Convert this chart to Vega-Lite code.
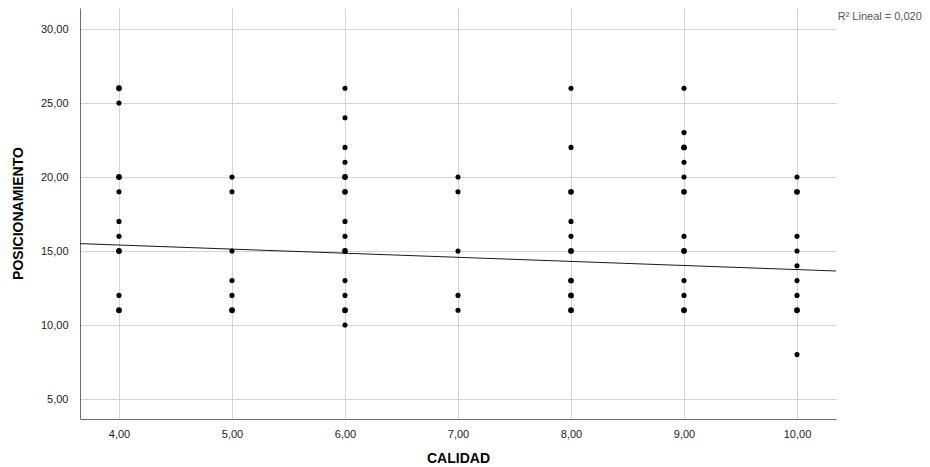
{
  "$schema": "https://vega.github.io/schema/vega-lite/v6.json",
  "width": 756,
  "height": 411,
  "autosize": {"type": "none"},
  "padding": {"left": 80, "top": 8, "right": 94, "bottom": 48},
  "background": "white",
  "config": {
    "view": {"stroke": null},
    "font": "Liberation Sans",
    "axis": {
      "grid": true,
      "gridColor": "#d4d4d4",
      "gridWidth": 1,
      "ticks": false,
      "domainColor": "#6e6e6e",
      "domainWidth": 1,
      "labelFont": "Liberation Sans",
      "labelFontSize": 11,
      "labelColor": "#222222",
      "titleFont": "Liberation Sans",
      "titleFontSize": 14,
      "titleFontWeight": "bold",
      "titleColor": "#000000"
    }
  },
  "datasets": {
    "pts": [
      {"calidad": 4, "posicionamiento": 26, "n": 2},
      {"calidad": 4, "posicionamiento": 25, "n": 1},
      {"calidad": 4, "posicionamiento": 20, "n": 2},
      {"calidad": 4, "posicionamiento": 19, "n": 1},
      {"calidad": 4, "posicionamiento": 17, "n": 1},
      {"calidad": 4, "posicionamiento": 16, "n": 1},
      {"calidad": 4, "posicionamiento": 15, "n": 2},
      {"calidad": 4, "posicionamiento": 12, "n": 1},
      {"calidad": 4, "posicionamiento": 11, "n": 2},
      {"calidad": 5, "posicionamiento": 20, "n": 1},
      {"calidad": 5, "posicionamiento": 19, "n": 1},
      {"calidad": 5, "posicionamiento": 15, "n": 1},
      {"calidad": 5, "posicionamiento": 13, "n": 1},
      {"calidad": 5, "posicionamiento": 12, "n": 1},
      {"calidad": 5, "posicionamiento": 11, "n": 2},
      {"calidad": 6, "posicionamiento": 26, "n": 1},
      {"calidad": 6, "posicionamiento": 24, "n": 1},
      {"calidad": 6, "posicionamiento": 22, "n": 1},
      {"calidad": 6, "posicionamiento": 21, "n": 1},
      {"calidad": 6, "posicionamiento": 20, "n": 2},
      {"calidad": 6, "posicionamiento": 19, "n": 2},
      {"calidad": 6, "posicionamiento": 17, "n": 1},
      {"calidad": 6, "posicionamiento": 16, "n": 1},
      {"calidad": 6, "posicionamiento": 15, "n": 2},
      {"calidad": 6, "posicionamiento": 13, "n": 1},
      {"calidad": 6, "posicionamiento": 12, "n": 1},
      {"calidad": 6, "posicionamiento": 11, "n": 2},
      {"calidad": 6, "posicionamiento": 10, "n": 1},
      {"calidad": 7, "posicionamiento": 20, "n": 1},
      {"calidad": 7, "posicionamiento": 19, "n": 1},
      {"calidad": 7, "posicionamiento": 15, "n": 1},
      {"calidad": 7, "posicionamiento": 12, "n": 1},
      {"calidad": 7, "posicionamiento": 11, "n": 1},
      {"calidad": 8, "posicionamiento": 26, "n": 1},
      {"calidad": 8, "posicionamiento": 22, "n": 1},
      {"calidad": 8, "posicionamiento": 19, "n": 2},
      {"calidad": 8, "posicionamiento": 17, "n": 1},
      {"calidad": 8, "posicionamiento": 16, "n": 1},
      {"calidad": 8, "posicionamiento": 15, "n": 2},
      {"calidad": 8, "posicionamiento": 13, "n": 2},
      {"calidad": 8, "posicionamiento": 12, "n": 2},
      {"calidad": 8, "posicionamiento": 11, "n": 2},
      {"calidad": 9, "posicionamiento": 26, "n": 1},
      {"calidad": 9, "posicionamiento": 23, "n": 1},
      {"calidad": 9, "posicionamiento": 22, "n": 2},
      {"calidad": 9, "posicionamiento": 21, "n": 1},
      {"calidad": 9, "posicionamiento": 20, "n": 1},
      {"calidad": 9, "posicionamiento": 19, "n": 2},
      {"calidad": 9, "posicionamiento": 16, "n": 1},
      {"calidad": 9, "posicionamiento": 15, "n": 2},
      {"calidad": 9, "posicionamiento": 13, "n": 1},
      {"calidad": 9, "posicionamiento": 12, "n": 1},
      {"calidad": 9, "posicionamiento": 11, "n": 2},
      {"calidad": 10, "posicionamiento": 20, "n": 1},
      {"calidad": 10, "posicionamiento": 19, "n": 2},
      {"calidad": 10, "posicionamiento": 16, "n": 1},
      {"calidad": 10, "posicionamiento": 15, "n": 1},
      {"calidad": 10, "posicionamiento": 14, "n": 1},
      {"calidad": 10, "posicionamiento": 13, "n": 1},
      {"calidad": 10, "posicionamiento": 12, "n": 1},
      {"calidad": 10, "posicionamiento": 11, "n": 2},
      {"calidad": 10, "posicionamiento": 8, "n": 1}
    ],
    "fit": [
      {"calidad": 3.655, "posicionamiento": 15.5},
      {"calidad": 10.345, "posicionamiento": 13.65}
    ],
    "note": [
      {"calidad": 10.36, "posicionamiento": 30.8, "label": "R² Lineal = 0,020"}
    ]
  },
  "layer": [
    {
      "data": {"name": "pts"},
      "mark": {"type": "circle", "color": "#000000", "opacity": 1},
      "encoding": {
        "x": {
          "field": "calidad",
          "type": "quantitative",
          "scale": {"domain": [3.655, 10.345], "nice": false, "zero": false},
          "axis": {
            "title": "CALIDAD",
            "values": [4, 5, 6, 7, 8, 9, 10],
            "labelExpr": "replace(format(datum.value, '.2f'), '.', ',')",
            "labelPadding": 9,
            "titlePadding": 12
          }
        },
        "y": {
          "field": "posicionamiento",
          "type": "quantitative",
          "scale": {"domain": [3.65, 31.42], "nice": false, "zero": false},
          "axis": {
            "title": "POSICIONAMIENTO",
            "values": [5, 10, 15, 20, 25, 30],
            "labelExpr": "replace(format(datum.value, '.2f'), '.', ',')",
            "labelPadding": 12,
            "titleX": -62,
            "titleY": 205,
            "titleAngle": -90,
            "titleBaseline": "middle",
            "titleAlign": "center"
          }
        },
        "size": {
          "field": "n",
          "type": "quantitative",
          "scale": {"domain": [1, 2], "range": [26, 34]},
          "legend": null
        }
      }
    },
    {
      "data": {"name": "fit"},
      "mark": {"type": "line", "color": "#000000", "strokeWidth": 0.9},
      "encoding": {
        "x": {"field": "calidad", "type": "quantitative"},
        "y": {"field": "posicionamiento", "type": "quantitative"}
      }
    },
    {
      "data": {"name": "note"},
      "mark": {"type": "text", "align": "left", "baseline": "middle", "fontSize": 11, "color": "#555555", "font": "Liberation Sans"},
      "encoding": {
        "x": {"field": "calidad", "type": "quantitative"},
        "y": {"field": "posicionamiento", "type": "quantitative"},
        "text": {"field": "label"}
      }
    }
  ]
}
